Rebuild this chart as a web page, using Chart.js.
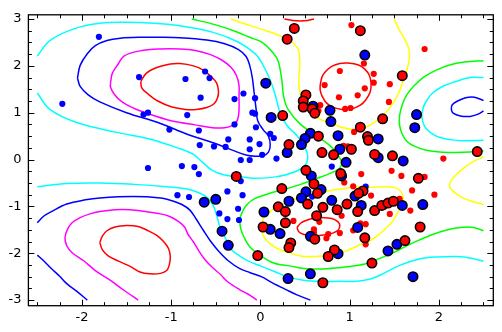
<!DOCTYPE html>
<html><head><meta charset="utf-8">
<script src="https://cdn.jsdelivr.net/npm/chart.js@4/dist/chart.umd.min.js"></script>
<style>html,body{margin:0;padding:0;background:#fff}canvas{display:block}</style>
</head><body>
<canvas id="c" width="502" height="332"></canvas>
<script>
// ---- axis ticks ----
const xTicks = [-2, -1, 0, 1, 2];
const yTicks = [-3, -2, -1, 0, 1, 2, 3];

// ---- scatter points [x, y] ----
const largeRed = [[0.38,2.80],[1.12,2.75],[0.30,2.57],[0.51,1.38],[0.48,1.25],[0.48,1.12],[0.58,1.08],[0.61,0.99],[0.25,0.94],[1.12,0.69],[0.65,0.50],[1.20,0.49],[1.21,0.41],[0.32,0.32],[1.02,0.22],[0.69,0.15],[0.82,0.10],[1.28,0.11],[1.48,0.08],[1.59,1.79],[1.37,0.87],[2.43,0.17],[-0.27,-0.36],[0.51,-0.23],[0.60,-0.52],[0.90,-0.30],[1.77,-0.40],[0.24,-0.62],[0.64,-0.72],[1.15,-0.67],[1.10,-0.72],[0.53,-0.95],[0.70,-1.02],[0.97,-0.95],[1.09,-1.11],[0.86,-1.07],[1.28,-1.09],[1.36,-0.98],[1.43,-0.93],[1.49,-0.89],[0.20,-1.01],[0.28,-1.11],[0.63,-1.20],[0.28,-1.35],[0.03,-1.44],[0.61,-1.70],[0.34,-1.78],[0.32,-1.88],[1.17,-1.67],[1.79,-1.44],[1.62,-1.73],[0.83,-1.93],[0.76,-2.07],[1.25,-2.21],[-0.03,-2.05],[0.70,-2.63]];
const largeBlue = [[0.06,1.63],[1.17,2.23],[0.59,1.14],[0.78,1.05],[0.79,0.81],[0.12,0.90],[0.56,0.56],[0.50,0.45],[0.87,0.51],[0.46,0.32],[0.89,0.22],[0.30,0.15],[1.32,0.44],[1.75,0.96],[1.73,0.68],[1.32,0.04],[1.60,-0.03],[0.96,-0.06],[0.57,-0.35],[0.91,-0.35],[0.68,-0.64],[0.51,-0.69],[0.46,-0.82],[1.06,-0.78],[0.32,-0.89],[0.80,-0.87],[1.13,-0.98],[1.59,-0.98],[1.82,-0.96],[0.04,-1.12],[0.11,-1.49],[0.22,-1.58],[1.09,-1.45],[0.56,-1.64],[1.53,-1.81],[1.43,-1.95],[0.87,-2.01],[1.71,-2.50],[0.31,-2.54],[0.56,-2.44],[-0.63,-0.91],[-0.50,-0.85],[-0.43,-1.53],[-0.36,-1.83]];
const smallBlue = [[-1.81,2.62],[-2.22,1.19],[-1.36,1.76],[-0.84,1.72],[-0.62,1.88],[-0.57,1.74],[-0.67,1.32],[-1.31,0.96],[-1.26,1.00],[-0.82,0.95],[-1.02,0.64],[-0.69,0.62],[-0.68,0.31],[-0.52,0.28],[-0.36,0.43],[-0.39,0.27],[-0.29,1.29],[-0.19,1.41],[-0.29,0.75],[-0.12,0.43],[-0.12,0.22],[-0.06,1.31],[-0.09,1.00],[-0.06,0.98],[-0.05,0.69],[-0.01,0.33],[-0.22,-0.01],[-0.12,-0.01],[0.02,0.10],[0.18,0.02],[0.11,0.55],[0.15,0.46],[-1.26,-0.18],[-0.88,-0.14],[-0.74,-0.16],[-0.69,-0.31],[-0.22,-0.46],[-0.93,-0.76],[-0.80,-0.80],[-0.37,-0.68],[-0.20,-0.76],[-0.46,-1.15],[-0.37,-1.27],[-0.25,-1.05],[-0.24,-1.29],[0.80,-0.15],[0.58,-0.79],[1.18,-0.58]];
const smallRed = [[1.02,2.87],[1.16,2.05],[0.89,1.89],[1.27,1.83],[0.72,1.59],[1.27,1.64],[1.17,1.52],[0.88,1.33],[1.09,1.37],[0.67,1.16],[0.95,1.08],[1.01,1.10],[0.65,1.04],[1.05,0.59],[0.93,0.29],[0.98,0.28],[1.84,2.36],[1.45,1.61],[1.44,1.23],[2.05,0.02],[1.47,-0.24],[1.58,-0.35],[1.84,-0.37],[1.70,-0.66],[1.95,-0.75],[1.56,-0.84],[1.39,-1.01],[1.45,-1.16],[1.68,-1.09],[1.24,-0.77],[1.04,-0.57],[1.13,-0.31],[0.94,-0.49],[0.91,-1.20],[0.37,-1.31],[0.66,-1.33],[1.12,-1.36],[1.18,-1.38],[1.04,-1.51],[0.60,-1.49],[0.60,-1.56],[0.76,-1.59],[0.74,-1.68],[0.89,-1.57],[1.18,-1.81]];

// ---- contour lines [x, y] ----
const redTL = [[-1.34,1.67],[-1.28,1.84],[-1.17,1.96],[-1.01,2.04],[-0.90,2.05],[-0.75,2.00],[-0.64,1.91],[-0.55,1.77],[-0.49,1.63],[-0.47,1.46],[-0.48,1.32],[-0.52,1.19],[-0.60,1.11],[-0.72,1.07],[-0.84,1.07],[-0.99,1.12],[-1.15,1.25],[-1.26,1.40],[-1.33,1.53],[-1.34,1.67]];
const magentaTL = [[-1.68,1.63],[-1.66,1.84],[-1.59,2.05],[-1.53,2.21],[-1.35,2.32],[-1.12,2.36],[-0.90,2.36],[-0.73,2.33],[-0.56,2.24],[-0.43,2.12],[-0.33,1.97],[-0.27,1.80],[-0.24,1.59],[-0.24,1.32],[-0.24,1.04],[-0.26,0.83],[-0.31,0.73],[-0.40,0.68],[-0.54,0.68],[-0.73,0.74],[-0.96,0.81],[-1.18,0.93],[-1.40,1.08],[-1.55,1.23],[-1.64,1.40],[-1.68,1.55],[-1.68,1.63]];
const blueTL = [[-2.05,1.74],[-2.02,2.01],[-1.94,2.26],[-1.85,2.43],[-1.72,2.54],[-1.57,2.59],[-1.35,2.61],[-1.12,2.61],[-0.90,2.60],[-0.60,2.55],[-0.40,2.47],[-0.25,2.35],[-0.16,2.20],[-0.12,2.01],[-0.09,1.74],[-0.07,1.42],[-0.05,1.11],[-0.03,0.83],[0.03,0.64],[0.09,0.50],[0.11,0.31],[0.09,0.16],[0.03,0.08],[-0.06,0.07],[-0.15,0.09],[-0.30,0.19],[-0.53,0.36],[-0.82,0.54],[-1.12,0.77],[-1.50,1.00],[-1.80,1.23],[-1.93,1.38],[-2.02,1.56],[-2.05,1.74]];
const cyanTL = [[-2.5,2.21],[-2.36,2.54],[-2.09,2.79],[-1.80,2.91],[-1.50,2.93],[-1.20,2.91],[-0.92,2.86],[-0.54,2.72],[-0.25,2.51],[-0.06,2.26],[0.02,2.05],[0.11,1.70],[0.17,1.35],[0.22,1.00],[0.30,0.72],[0.41,0.51],[0.48,0.33],[0.52,0.16],[0.53,0.01],[0.50,-0.12],[0.39,-0.26],[0.17,-0.37],[-0.06,-0.40],[-0.17,-0.38],[-0.40,-0.33],[-0.54,-0.23],[-0.66,-0.04],[-0.75,0.11],[-0.90,0.23],[-1.24,0.44],[-1.61,0.58],[-2.06,0.79],[-2.36,1.07],[-2.5,1.42]];
const greenMid = [[-0.77,3.0],[-0.51,2.88],[-0.30,2.75],[-0.12,2.61],[0.02,2.50],[0.15,2.26],[0.20,2.10],[0.24,1.70],[0.26,1.35],[0.31,1.07],[0.45,0.75],[0.63,0.51],[0.80,0.26],[0.87,0.09],[0.91,-0.05],[0.89,-0.18],[0.80,-0.28],[0.61,-0.42],[0.45,-0.53],[0.26,-0.64],[0.09,-0.73],[-0.06,-0.83],[-0.15,-0.96],[-0.20,-1.11],[-0.23,-1.27],[-0.22,-1.48],[-0.18,-1.67],[-0.12,-1.86],[-0.02,-2.02],[0.15,-2.21],[0.33,-2.27],[0.52,-2.33],[0.75,-2.33],[0.97,-2.29],[1.17,-2.23],[1.34,-2.11],[1.51,-1.97],[1.64,-1.84],[1.79,-1.71],[1.93,-1.60],[2.10,-1.50],[2.24,-1.45],[2.39,-1.45],[2.5,-1.52]];
const yellowTop = [[-0.33,3.0],[-0.23,2.93],[0.0,2.79],[0.17,2.68],[0.35,2.51],[0.42,2.37],[0.44,2.16],[0.44,1.95],[0.43,1.63],[0.45,1.38],[0.48,1.17],[0.56,1.00],[0.67,0.86],[0.86,0.72],[1.04,0.64],[1.17,0.68],[1.28,0.80],[1.37,0.94],[1.46,1.13],[1.55,1.42],[1.61,1.74],[1.66,2.05],[1.67,2.31],[1.63,2.52],[1.55,2.79],[1.50,3.0]];
const redTopArc = [[0.27,3.0],[0.36,2.97],[0.45,2.96],[0.53,2.97],[0.60,3.0]];
const redUpper = [[0.67,1.59],[0.69,1.76],[0.73,1.88],[0.80,1.99],[0.89,2.05],[0.98,2.06],[1.10,2.02],[1.17,1.93],[1.22,1.80],[1.24,1.63],[1.23,1.44],[1.18,1.27],[1.12,1.16],[1.02,1.08],[0.92,1.07],[0.81,1.12],[0.74,1.21],[0.69,1.36],[0.67,1.48],[0.67,1.59]];
const blueRight = [[2.5,1.26],[2.40,1.33],[2.30,1.32],[2.21,1.25],[2.15,1.17],[2.14,1.07],[2.16,0.99],[2.24,0.93],[2.35,0.92],[2.44,0.97],[2.5,1.04]];
const cyanRight = [[2.5,1.75],[2.35,1.75],[2.18,1.66],[2.05,1.57],[1.93,1.42],[1.86,1.25],[1.82,1.08],[1.81,0.90],[1.84,0.71],[1.91,0.57],[2.01,0.47],[2.15,0.42],[2.30,0.40],[2.5,0.41]];
const greenRight = [[2.5,2.11],[2.29,2.08],[2.12,2.02],[1.97,1.91],[1.83,1.76],[1.72,1.57],[1.64,1.38],[1.59,1.17],[1.56,0.94],[1.56,0.73],[1.59,0.54],[1.64,0.39],[1.73,0.28],[1.86,0.20],[2.01,0.16],[2.18,0.15],[2.35,0.16],[2.5,0.19]];
const yellowRight = [[2.5,0.06],[2.37,-0.06],[2.26,-0.21],[2.18,-0.35],[2.13,-0.47],[2.12,-0.58],[2.16,-0.68],[2.24,-0.79],[2.35,-0.88],[2.5,-0.96]];
const yellowMid = [[0.01,-1.48],[0.03,-1.27],[0.09,-1.14],[0.20,-1.00],[0.33,-0.88],[0.50,-0.79],[0.69,-0.70],[0.89,-0.63],[1.06,-0.59],[1.23,-0.59],[1.37,-0.58],[1.51,-0.60],[1.58,-0.70],[1.60,-0.83],[1.58,-0.98],[1.54,-1.12],[1.48,-1.32],[1.41,-1.46],[1.32,-1.61],[1.23,-1.73],[1.09,-1.84],[0.95,-1.96],[0.78,-2.03],[0.61,-2.07],[0.45,-2.06],[0.31,-1.98],[0.20,-1.91],[0.11,-1.80],[0.04,-1.65],[0.01,-1.48]];
const redMid = [[0.41,-1.45],[0.45,-1.36],[0.51,-1.30],[0.61,-1.25],[0.71,-1.24],[0.80,-1.26],[0.87,-1.33],[0.89,-1.41],[0.87,-1.51],[0.81,-1.57],[0.71,-1.61],[0.59,-1.63],[0.49,-1.60],[0.43,-1.54],[0.41,-1.45]];
const cyanBottom = [[-2.5,-0.58],[-2.17,-0.51],[-1.80,-0.50],[-1.42,-0.53],[-1.05,-0.58],[-0.82,-0.63],[-0.69,-0.71],[-0.59,-0.82],[-0.53,-0.98],[-0.49,-1.19],[-0.46,-1.40],[-0.42,-1.57],[-0.37,-1.76],[-0.32,-1.93],[-0.23,-2.06],[-0.12,-2.18],[0.0,-2.27],[0.17,-2.40],[0.31,-2.51],[0.50,-2.58],[0.69,-2.60],[0.89,-2.60],[1.08,-2.60],[1.23,-2.55],[1.34,-2.47],[1.56,-2.26],[1.79,-2.12],[1.98,-2.08],[2.20,-2.07],[2.38,-2.11],[2.5,-2.17]];
const blueBottom = [[-2.5,-1.35],[-2.43,-1.21],[-2.34,-1.11],[-2.17,-0.95],[-1.96,-0.86],[-1.80,-0.82],[-1.43,-0.79],[-1.12,-0.82],[-0.99,-0.88],[-0.88,-0.96],[-0.79,-1.08],[-0.72,-1.27],[-0.64,-1.51],[-0.56,-1.74],[-0.47,-1.95],[-0.36,-2.16],[-0.23,-2.33],[-0.12,-2.41],[0.01,-2.50],[0.15,-2.65],[0.28,-2.77],[0.41,-2.89],[0.56,-3.0]];
const blueCorner = [[-2.5,-2.04],[-2.43,-2.16],[-2.34,-2.33],[-2.25,-2.49],[-2.17,-2.65],[-2.06,-2.81],[-1.94,-3.0]];
const magentaBottom = [[-1.37,-3.0],[-1.53,-2.79],[-1.68,-2.58],[-1.85,-2.37],[-1.98,-2.16],[-2.11,-1.99],[-2.17,-1.84],[-2.19,-1.67],[-2.16,-1.48],[-2.11,-1.35],[-2.02,-1.24],[-1.91,-1.16],[-1.80,-1.11],[-1.63,-1.07],[-1.46,-1.07],[-1.29,-1.11],[-1.12,-1.16],[-1.01,-1.22],[-0.92,-1.32],[-0.85,-1.44],[-0.81,-1.60],[-0.75,-1.76],[-0.69,-1.95],[-0.62,-2.14],[-0.54,-2.30],[-0.45,-2.45],[-0.36,-2.62],[-0.23,-2.78],[-0.14,-2.87],[-0.04,-3.0]];
const redBottom = [[-1.80,-1.77],[-1.77,-1.63],[-1.72,-1.52],[-1.63,-1.44],[-1.50,-1.41],[-1.37,-1.43],[-1.27,-1.51],[-1.17,-1.61],[-1.09,-1.74],[-1.03,-1.90],[-1.01,-2.07],[-1.02,-2.24],[-1.05,-2.37],[-1.12,-2.43],[-1.24,-2.44],[-1.35,-2.40],[-1.46,-2.28],[-1.59,-2.17],[-1.71,-2.05],[-1.77,-1.93],[-1.80,-1.77]];

const RED = '#ff0000', MAG = '#ff00ff', BLUE = '#0000ff', CYAN = '#00ffff', GREEN = '#00ff00', YEL = '#ffff00';
const contours = [
  [redTL, RED], [magentaTL, MAG], [blueTL, BLUE], [cyanTL, CYAN], [greenMid, GREEN], [yellowTop, YEL],
  [redTopArc, RED], [redUpper, RED], [blueRight, BLUE], [cyanRight, CYAN], [greenRight, GREEN],
  [yellowRight, YEL], [yellowMid, YEL], [redMid, RED], [cyanBottom, CYAN], [blueBottom, BLUE],
  [blueCorner, BLUE], [magentaBottom, MAG], [redBottom, RED]
];
const toXY = arr => arr.map(p => ({x: p[0], y: p[1]}));

const datasets = [];
datasets.push({data: toXY(largeRed), pointRadius: 4.7, pointBorderWidth: 1.6, pointBackgroundColor: RED, pointBorderColor: '#000', showLine: false, order: 0});
datasets.push({data: toXY(largeBlue), pointRadius: 4.7, pointBorderWidth: 1.6, pointBackgroundColor: BLUE, pointBorderColor: '#000', showLine: false, order: 0});
datasets.push({data: toXY(smallRed), pointRadius: 3.1, pointBorderWidth: 0, pointBackgroundColor: RED, pointBorderColor: RED, showLine: false, order: 1});
datasets.push({data: toXY(smallBlue), pointRadius: 3.1, pointBorderWidth: 0, pointBackgroundColor: BLUE, pointBorderColor: BLUE, showLine: false, order: 1});
contours.forEach(([arr, col]) => datasets.push({
  data: toXY(arr), showLine: true, pointRadius: 0, borderColor: col, borderWidth: 1.5,
  tension: 0.35, fill: false, order: 2
}));

const frameTicks = {
  id: 'frameTicks',
  afterDatasetsDraw(chart) {
    const {ctx, chartArea: a, scales: {x, y}} = chart;
    ctx.save();
    ctx.strokeStyle = '#000';
    ctx.lineWidth = 1;
    ctx.beginPath();
    const major = 6, minor = 3.5;
    for (let k = Math.ceil(x.min * 4); k <= Math.floor(x.max * 4); k++) {
      const px = Math.round(x.getPixelForValue(k / 4)) + 0.5;
      const len = (k % 4 === 0) ? major : minor;
      ctx.moveTo(px, a.bottom); ctx.lineTo(px, a.bottom - len);
      ctx.moveTo(px, a.top); ctx.lineTo(px, a.top + len);
    }
    for (let k = Math.ceil(y.min * 4); k <= Math.floor(y.max * 4); k++) {
      const py = Math.round(y.getPixelForValue(k / 4)) + 0.5;
      const len = (k % 4 === 0) ? major : minor;
      ctx.moveTo(a.left, py); ctx.lineTo(a.left + len, py);
      ctx.moveTo(a.right, py); ctx.lineTo(a.right - len, py);
    }
    ctx.stroke();
    ctx.lineWidth = 1.3;
    ctx.strokeRect(a.left, a.top, a.right - a.left, a.bottom - a.top);
    ctx.restore();
  }
};

const tickFont = {family: 'DejaVu Sans', size: 13};
new Chart(document.getElementById('c'), {
  type: 'scatter',
  data: {datasets},
  plugins: [frameTicks],
  options: {
    responsive: false, animation: false, devicePixelRatio: 1,
    layout: {padding: {top: 10.7, right: 8.7, left: 0, bottom: 0}},
    plugins: {legend: {display: false}, tooltip: {enabled: false}},
    scales: {
      x: {
        type: 'linear', min: -2.6, max: 2.61,
        grid: {display: false, drawTicks: false}, border: {display: false},
        afterBuildTicks: s => { s.ticks = xTicks.map(v => ({value: v})); },
        afterFit: s => { s.height = 26.3; },
        ticks: {font: tickFont, color: '#000', padding: 4, autoSkip: false, maxRotation: 0, callback: v => String(v)}
      },
      y: {
        type: 'linear', min: -3.12, max: 3.09,
        grid: {display: false, drawTicks: false}, border: {display: false},
        afterBuildTicks: s => { s.ticks = yTicks.map(v => ({value: v})); },
        afterFit: s => { s.width = 28.4; },
        ticks: {font: tickFont, color: '#000', padding: 7, autoSkip: false, callback: v => String(v)}
      }
    }
  }
});
</script>
</body></html>
